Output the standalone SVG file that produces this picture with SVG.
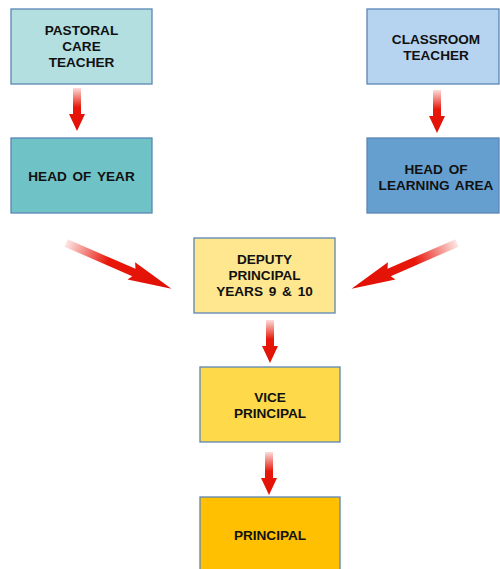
<svg xmlns="http://www.w3.org/2000/svg" width="500" height="569" viewBox="0 0 500 569">
<defs>
<style>
.box{stroke:#5b86b4;stroke-width:1.3}
.t{font-family:"Liberation Sans",Arial,sans-serif;font-weight:bold;font-size:13.6px;fill:#111;text-anchor:middle;word-spacing:2px}
</style>
<linearGradient id="gv" x1="0" y1="0" x2="0" y2="1">
<stop offset="0" stop-color="#e8170a" stop-opacity="0.15"/>
<stop offset="0.45" stop-color="#e8170a"/>
<stop offset="1" stop-color="#e01005"/>
</linearGradient>
<linearGradient id="gd" x1="0" y1="0" x2="1" y2="0">
<stop offset="0" stop-color="#e8170a" stop-opacity="0.1"/>
<stop offset="0.4" stop-color="#e8170a"/>
<stop offset="1" stop-color="#e01005"/>
</linearGradient>
<path id="va" d="M-4,0 H4 V26 H8 L0,43 L-8,26 H-4 Z"/>
<path id="da" d="M0,-4 H74 L71,-10 L115,0 L71,9 L74,4 H0 Z"/>
</defs>
<rect width="500" height="569" fill="#fff"/>
<g id="connectors">
<use href="#va" x="77" y="88" fill="url(#gv)"/>
<use href="#va" x="437" y="90" fill="url(#gv)"/>
<use href="#va" x="270" y="320" fill="url(#gv)"/>
<use href="#va" x="269" y="452" fill="url(#gv)"/>
<use href="#da" fill="url(#gd)" transform="translate(66,243) rotate(23.5)"/>
<use href="#da" fill="url(#gd)" transform="translate(457,243) scale(-1,1) rotate(23.5)"/>
</g>
<g id="pastoral">
<rect class="box" x="11" y="9" width="141" height="75" fill="#b4dfe0"/>
<text class="t" x="81.5" y="35">PASTORAL</text>
<text class="t" x="81.5" y="51">CARE</text>
<text class="t" x="81.5" y="67">TEACHER</text>
</g>
<g id="headofyear">
<rect class="box" x="11" y="138" width="141" height="75" fill="#6fc3c6"/>
<text class="t" x="81.5" y="181">HEAD OF YEAR</text>
</g>
<g id="classroom">
<rect class="box" x="367" y="9" width="132" height="75" fill="#b6d4ef"/>
<text class="t" x="436" y="44">CLASSROOM</text>
<text class="t" x="436" y="60">TEACHER</text>
</g>
<g id="headlearning">
<rect class="box" x="367" y="138" width="132" height="75" fill="#659fd0"/>
<text class="t" x="436" y="174">HEAD OF</text>
<text class="t" x="436" y="190">LEARNING AREA</text>
</g>
<g id="deputy">
<rect class="box" x="194" y="238" width="141" height="75" fill="#fee78e"/>
<text class="t" x="264.5" y="264">DEPUTY</text>
<text class="t" x="264.5" y="280">PRINCIPAL</text>
<text class="t" x="264.5" y="296">YEARS 9 &amp; 10</text>
</g>
<g id="vice">
<rect class="box" x="200" y="367" width="140" height="75" fill="#fed94a"/>
<text class="t" x="270" y="402">VICE</text>
<text class="t" x="270" y="418">PRINCIPAL</text>
</g>
<g id="principal">
<rect class="box" x="200" y="497" width="140" height="80" fill="#fec000"/>
<text class="t" x="270" y="540">PRINCIPAL</text>
</g>
</svg>
